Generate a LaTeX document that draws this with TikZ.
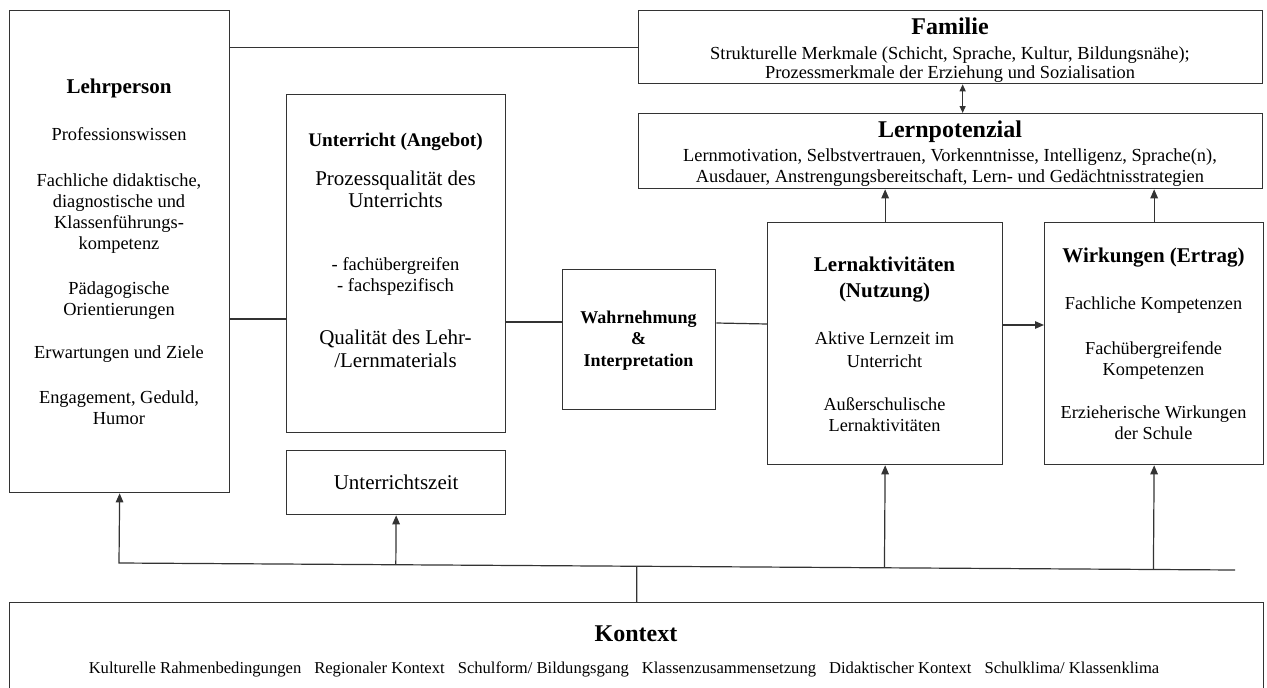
\documentclass[tikz,border=0pt]{standalone}
\usepackage{fontspec}
\setmainfont{Liberation Serif}
\usetikzlibrary{positioning,arrows.meta,calc}

\newcommand{\fs}[2]{\fontsize{#1}{#2}\selectfont}

\begin{document}
\begin{tikzpicture}[x=1pt,y=-1pt,>={Triangle[width=7.5pt,length=9pt]},
  box/.style={draw=black!80,line width=1.3pt,rectangle,inner sep=0pt,anchor=north west},
  txt/.style={align=center,inner sep=0pt,anchor=north},
  con/.style={draw=black!80,line width=1.2pt}]
  \useasboundingbox (0,0) rectangle (1267,688);

  % boxes
  \node[box,minimum width=220pt,minimum height=482pt] (lehr) at (9,10) {};
  \node[box,minimum width=219pt,minimum height=338pt] (unt) at (286,94) {};
  \node[box,minimum width=219pt,minimum height=64pt,font=\fs{21}{21}] (zeit) at (286,450) {Unterrichtszeit};
  \node[box,minimum width=153pt,minimum height=140pt] (wahr) at (562,269) {};
  \node[box,minimum width=235pt,minimum height=242pt] (lakt) at (767,222) {};
  \node[box,minimum width=219pt,minimum height=242pt] (wirk) at (1044,222) {};
  \node[box,minimum width=624pt,minimum height=73pt] (fam) at (638,10) {};
  \node[box,minimum width=624pt,minimum height=75pt] (lpot) at (638,113) {};
  \node[box,minimum width=1254pt,minimum height=92pt] (kon) at (9,602) {};

  % texts
  \node[txt,font=\fs{18.4}{21}] (lehr-t) at (119,78.8) {{\bfseries\fs{21}{21}Lehrperson}\\[26pt]
    Professionswissen\\[25pt]
    Fachliche didaktische,\\ diagnostische und\\ Klassenführungs-\\ kompetenz\\[24pt]
    Pädagogische\\ Orientierungen\\[22pt]
    Erwartungen und Ziele\\[24pt]
    Engagement, Geduld,\\ Humor};
  \node[txt,font=\fs{18.5}{21}] (unt-t) at (395.5,132.7) {{\bfseries\fs{19.2}{21}Unterricht (Angebot)}\\[18pt]
    {\fs{21}{21}Prozessqualität des}\\[1pt] {\fs{21}{21}Unterrichts}\\[42pt]
    - fachübergreifen\\ - fachspezifisch\\[32pt]
    {\fs{21}{21}Qualität des Lehr-}\\[2pt] {\fs{21}{21}/Lernmaterials}};
  \node[txt,font=\bfseries\fs{18}{21.5}] (wahr-t) at (638.5,310.8) {Wahrnehmung\\ \&\\ Interpretation};
  \node[txt,font=\fs{18.3}{22}] (lakt-t) at (884.5,256.8) {{\bfseries\fs{21}{22}Lernaktivitäten}\\[4pt]
    {\bfseries\fs{21}{22}(Nutzung)}\\[25pt]
    Aktive Lernzeit im\\[1pt] Unterricht\\[21pt]
    Außerschulische\\[-1pt] Lernaktivitäten};
  \node[txt,font=\fs{18.3}{21}] (wirk-t) at (1153.5,247.4) {{\bfseries\fs{21}{21}Wirkungen (Ertrag)}\\[26pt]
    Fachliche Kompetenzen\\[24pt]
    Fachübergreifende\\ Kompetenzen\\[22pt]
    Erzieherische Wirkungen\\ der Schule};
  \node[txt,font=\fs{18.4}{21}] (fam-t) at (950,17.5) {{\bfseries\fs{24}{24}Familie}\\[4pt]
    Strukturelle Merkmale (Schicht, Sprache, Kultur, Bildungsnähe);\\[-2pt]
    Prozessmerkmale der Erziehung und Sozialisation};
  \node[txt,font=\fs{18.4}{22}] (lpot-t) at (950,120.8) {{\bfseries\fs{24}{24}Lernpotenzial}\\[2pt]
    Lernmotivation, Selbstvertrauen, Vorkenntnisse, Intelligenz, Sprache(n),\\[-1pt]
    Ausdauer, Anstrengungsbereitschaft, Lern- und Gedächtnisstrategien};
  \node[txt,font=\bfseries\fs{24}{24}] (kon-t) at (636,625.5) {Kontext};
  \node[anchor=base,inner sep=0pt,font=\fs{16.6}{20}] (kon-b) at (624,673) {Kulturelle Rahmenbedingungen\hspace{13pt}Regionaler Kontext\hspace{13pt}Schulform/ Bildungsgang\hspace{13pt}Klassenzusammensetzung\hspace{13pt}Didaktischer Kontext\hspace{13pt}Schulklima/ Klassenklima};

  % connectors
  \draw[con] (lehr.east |- fam.west) -- (fam.west);
  \draw[con] (lehr.east |- 0,319) -- (unt.west |- 0,319);
  \draw[con] (unt.east |- 0,322) -- (wahr.west |- 0,322);
  \draw[con] (wahr.east |- 0,323) -- (lakt.west |- 0,324);
  \draw[con,->] (lakt.east |- 0,325) -- (wirk.west |- 0,325);
  \draw[con,<->,>={Triangle[width=6pt,length=7pt]}] ([xshift=12pt]fam.south) -- ([xshift=12pt]lpot.north);
  \draw[con,->] (lakt.north) -- (lakt.north |- lpot.south);
  \draw[con,->] (wirk.north) -- (wirk.north |- lpot.south);

  % bottom line
  \coordinate (bl) at (119,563);
  \coordinate (br) at (1235,570);
  \draw[con,->] (br) -- (bl) -- (lehr.south);
  \draw[con,->] ($(bl)!(zeit.south)!(br)$) -- (zeit.south);
  \draw[con,->] ($(bl)!(lakt.south)!(br)$) -- (lakt.south);
  \draw[con,->] ($(bl)!(wirk.south)!(br)$) -- (wirk.south);
  \draw[con] ($(bl)!(kon.north)!(br)$) -- (kon.north);
\end{tikzpicture}
\end{document}
